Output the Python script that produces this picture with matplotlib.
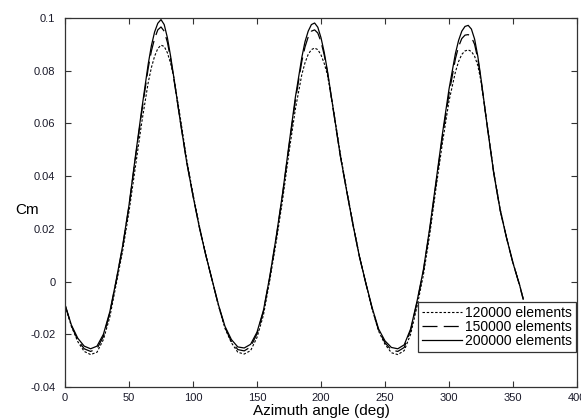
import matplotlib.pyplot as plt

plt.rcParams["font.family"] = ["Liberation Sans", "DejaVu Sans"]

# azimuth angle (deg); a few extra samples around each peak
angle = [
    0, 5, 10, 15, 20, 25, 30, 35, 40, 45, 50, 55, 60, 65, 67.5, 70, 72.5, 75,
    77.5, 80, 82.5, 85, 90, 95, 100, 105, 110, 115,
    120, 125, 130, 135, 140, 145, 150, 155, 160, 165, 170, 175, 180, 185,
    187.5, 190, 192.5, 195, 197.5, 200, 202.5, 205, 210, 215, 220, 225, 230, 235,
    240, 245, 250, 255, 260, 265, 270, 275, 280, 285, 290, 295, 300, 305,
    307.5, 310, 312.5, 315, 317.5, 320, 322.5, 325, 330, 335, 340, 345, 350, 355,
    358,
]

cm_200k = [
    -0.0087, -0.0165, -0.0215, -0.0245, -0.0255, -0.0245, -0.0200, -0.0115,
    0.0005, 0.0135, 0.0290, 0.0475, 0.0655, 0.0825, 0.0895, 0.0947, 0.0980, 0.0994,
    0.0975, 0.0925, 0.0855, 0.0775, 0.0610, 0.0455, 0.0325, 0.0205, 0.0100, 0.0005,
    -0.0090, -0.0170, -0.0220, -0.0248, -0.0252, -0.0238, -0.0192, -0.0110,
    0.0020, 0.0170, 0.0335, 0.0520, 0.0700, 0.0850,
    0.0910, 0.0950, 0.0975, 0.0981, 0.0965, 0.0925, 0.0870, 0.0800, 0.0640, 0.0480, 0.0345, 0.0215, 0.0095, -0.0005,
    -0.0100, -0.0180, -0.0225, -0.0250, -0.0255, -0.0240, -0.0180, -0.0075,
    0.0045, 0.0205, 0.0385, 0.0565, 0.0730, 0.0865,
    0.0915, 0.0950, 0.0968, 0.0972, 0.0958, 0.0920, 0.0855, 0.0770, 0.0585, 0.0410, 0.0270, 0.0165, 0.0070, -0.0010,
    -0.0066,
]

cm_150k = [
    -0.0088, -0.0168, -0.0222, -0.0255, -0.0265, -0.0255, -0.0208, -0.0120,
    0.0002, 0.0130, 0.0285, 0.0468, 0.0645, 0.0810, 0.0875, 0.0922, 0.0955, 0.0966,
    0.0950, 0.0908, 0.0845, 0.0770, 0.0612, 0.0456, 0.0326, 0.0206, 0.0100, 0.0004,
    -0.0092, -0.0174, -0.0228, -0.0258, -0.0263, -0.0248, -0.0198, -0.0114,
    0.0016, 0.0165, 0.0330, 0.0512, 0.0688, 0.0835,
    0.0890, 0.0928, 0.0950, 0.0955, 0.0943, 0.0910, 0.0860, 0.0795, 0.0638, 0.0480, 0.0345, 0.0215, 0.0095, -0.0007,
    -0.0103, -0.0185, -0.0232, -0.0260, -0.0265, -0.0250, -0.0186, -0.0080,
    0.0040, 0.0198, 0.0376, 0.0553, 0.0712, 0.0845,
    0.0892, 0.0922, 0.0935, 0.0937, 0.0928, 0.0900, 0.0845, 0.0765, 0.0585, 0.0410, 0.0270, 0.0165, 0.0070, -0.0012,
    -0.0068,
]

cm_120k = [
    -0.0090, -0.0170, -0.0228, -0.0265, -0.0277, -0.0268, -0.0220, -0.0135,
    -0.0010, 0.0115, 0.0265, 0.0435, 0.0605, 0.0755, 0.0812, 0.0855, 0.0884, 0.0897,
    0.0892, 0.0868, 0.0828, 0.0775, 0.0625, 0.0465, 0.0332, 0.0210, 0.0103, 0.0005,
    -0.0093, -0.0178, -0.0232, -0.0268, -0.0275, -0.0262, -0.0212, -0.0128,
    0.0005, 0.0150, 0.0310, 0.0490, 0.0655, 0.0785,
    0.0830, 0.0862, 0.0880, 0.0886, 0.0880, 0.0860, 0.0828, 0.0785, 0.0645, 0.0488, 0.0350, 0.0220, 0.0098, -0.0005,
    -0.0105, -0.0188, -0.0238, -0.0270, -0.0277, -0.0262, -0.0200, -0.0095,
    0.0025, 0.0180, 0.0360, 0.0530, 0.0685, 0.0795,
    0.0835, 0.0862, 0.0875, 0.0879, 0.0873, 0.0855, 0.0820, 0.0760, 0.0590, 0.0415, 0.0275, 0.0168, 0.0072, -0.0010,
    -0.0066,
]

series = [
    ("120000 elements", cm_120k, (0, (2.2, 1.6)), 0.8),
    ("150000 elements", cm_150k, (0, (12, 5)), 0.9),
    ("200000 elements", cm_200k, "-", 0.9),
]

x_ticks = list(range(0, 401, 50))
y_ticks = [-0.04, -0.02, 0, 0.02, 0.04, 0.06, 0.08, 0.1]
y_labels = ["-0.04", "-0.02", "0", "0.02", "0.04", "0.06", "0.08", "0.1"]

fig = plt.figure(figsize=(5.81, 4.19), dpi=100)
ax = fig.add_axes([65 / 581, 1 - 387 / 419, 512 / 581, 369 / 419])

for label, vals, ls, lw in series:
    ax.plot(angle, vals, color="black", linestyle=ls, linewidth=lw, label=label)

ax.set_xlim(0, 400)
ax.set_ylim(-0.04, 0.1)
ax.set_xticks(x_ticks)
ax.set_xticklabels([str(t) for t in x_ticks])
ax.set_yticks(y_ticks)
ax.set_yticklabels(y_labels)
ax.tick_params(direction="in", length=4, width=0.8, labelsize=8,
               top=True, right=True, colors="#333333", labelcolor="#1a1a2a")
ax.tick_params(axis="y", pad=7)
ax.tick_params(axis="x", pad=4)
for sp in ax.spines.values():
    sp.set_linewidth(0.9)
    sp.set_color("#333333")

ax.set_xlabel("Azimuth angle (deg)", fontsize=11, labelpad=1)
ax.set_ylabel("Cm", fontsize=11, rotation=0, va="center", ha="center")
ax.yaxis.set_label_coords(-38 / 512, (387 - 210) / 369)

leg = ax.legend(loc="lower right", bbox_to_anchor=(0.998, 0.095), borderaxespad=0,
                fontsize=10, frameon=True, fancybox=False, shadow=False,
                handlelength=2.9, handletextpad=0.2, labelspacing=0.0,
                borderpad=0.3)
leg.get_frame().set_edgecolor("#333333")
leg.get_frame().set_linewidth(0.9)
leg.get_frame().set_alpha(1)

fig.savefig("out.png", dpi=100)
